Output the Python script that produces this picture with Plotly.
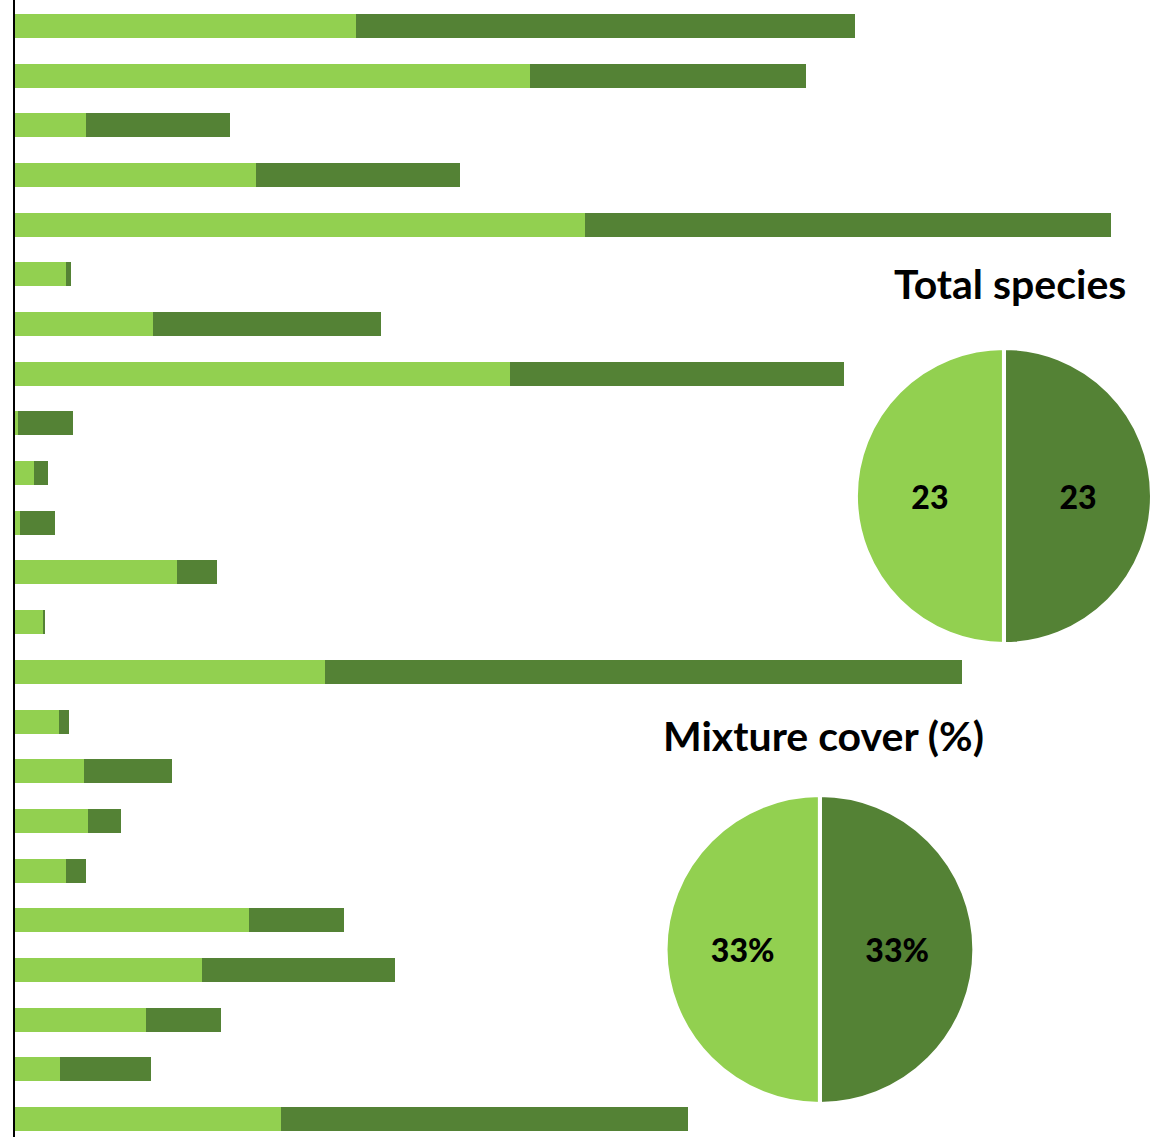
import plotly.graph_objects as go

# Stacked bar data (one row per category, top to bottom)
categories = list(range(23))
light_values = [341, 515, 71, 241, 570, 51, 138, 495, 3, 19, 5, 162, 28,
                310, 44, 69, 73, 51, 234, 187, 131, 45, 266]
dark_values = [499, 276, 144, 204, 526, 5, 228, 334, 55, 14, 35, 40, 2,
               637, 10, 88, 33, 20, 95, 193, 75, 91, 407]

# Pie data (dark slice listed first so it sits on the right)
species_labels = ["Dark", "Light"]
species_values = [23, 23]
cover_labels = ["Dark", "Light"]
cover_values = [33, 33]

LIGHT = "#92D050"
DARK = "#548235"
FONT = "Lato, 'Open Sans', sans-serif"

fig = go.Figure()
fig.add_trace(go.Bar(y=categories, x=light_values, orientation="h",
                     marker=dict(color=LIGHT, line=dict(width=0)),
                     showlegend=False, hoverinfo="x"))
fig.add_trace(go.Bar(y=categories, x=dark_values, orientation="h",
                     marker=dict(color=DARK, line=dict(width=0)),
                     showlegend=False, hoverinfo="x"))

W, H = 1152, 1137

fig.add_trace(go.Pie(labels=species_labels, values=species_values,
                     sort=False, direction="clockwise", rotation=0,
                     marker=dict(colors=[DARK, LIGHT], line=dict(color="white", width=4)),
                     texttemplate="%{value}", textposition="inside",
                     insidetextorientation="horizontal",
                     textfont=dict(family=FONT, size=32, color="black", weight=900),
                     domain=dict(x=[852 / W, 1.0], y=[1 - 646 / H, 1 - 346 / H]),
                     showlegend=False))
fig.add_trace(go.Pie(labels=cover_labels, values=cover_values,
                     sort=False, direction="clockwise", rotation=0,
                     marker=dict(colors=[DARK, LIGHT], line=dict(color="white", width=4)),
                     texttemplate="%{value}%", textposition="inside",
                     insidetextorientation="horizontal",
                     textfont=dict(family=FONT, size=32, color="black", weight=900),
                     domain=dict(x=[659 / W, 972 / W], y=[1 - 1106 / H, 1 - 793 / H]),
                     showlegend=False))

fig.add_annotation(text="<b>Total species</b>", x=1008 / W, y=1 - 284 / H,
                   xref="paper", yref="paper", showarrow=False,
                   xanchor="center", yanchor="middle",
                   font=dict(family=FONT, size=41, color="black"))
fig.add_annotation(text="<b>Mixture cover (%)</b>", x=819 / W, y=1 - 735 / H,
                   xref="paper", yref="paper", showarrow=False,
                   xanchor="center", yanchor="middle",
                   font=dict(family=FONT, size=41, color="black"))

fig.update_layout(
    width=W, height=H,
    margin=dict(l=15, r=0, t=0, b=0),
    barmode="stack", bargap=0.517,
    plot_bgcolor="white", paper_bgcolor="white",
    xaxis=dict(range=[0, 1137], showgrid=False, zeroline=False,
               showticklabels=False, showline=False),
    yaxis=dict(range=[22.36, -0.52], showgrid=False, zeroline=False,
               showticklabels=False, ticks="", showline=True,
               linecolor="black", linewidth=2),
)

fig.write_html("out.html")
